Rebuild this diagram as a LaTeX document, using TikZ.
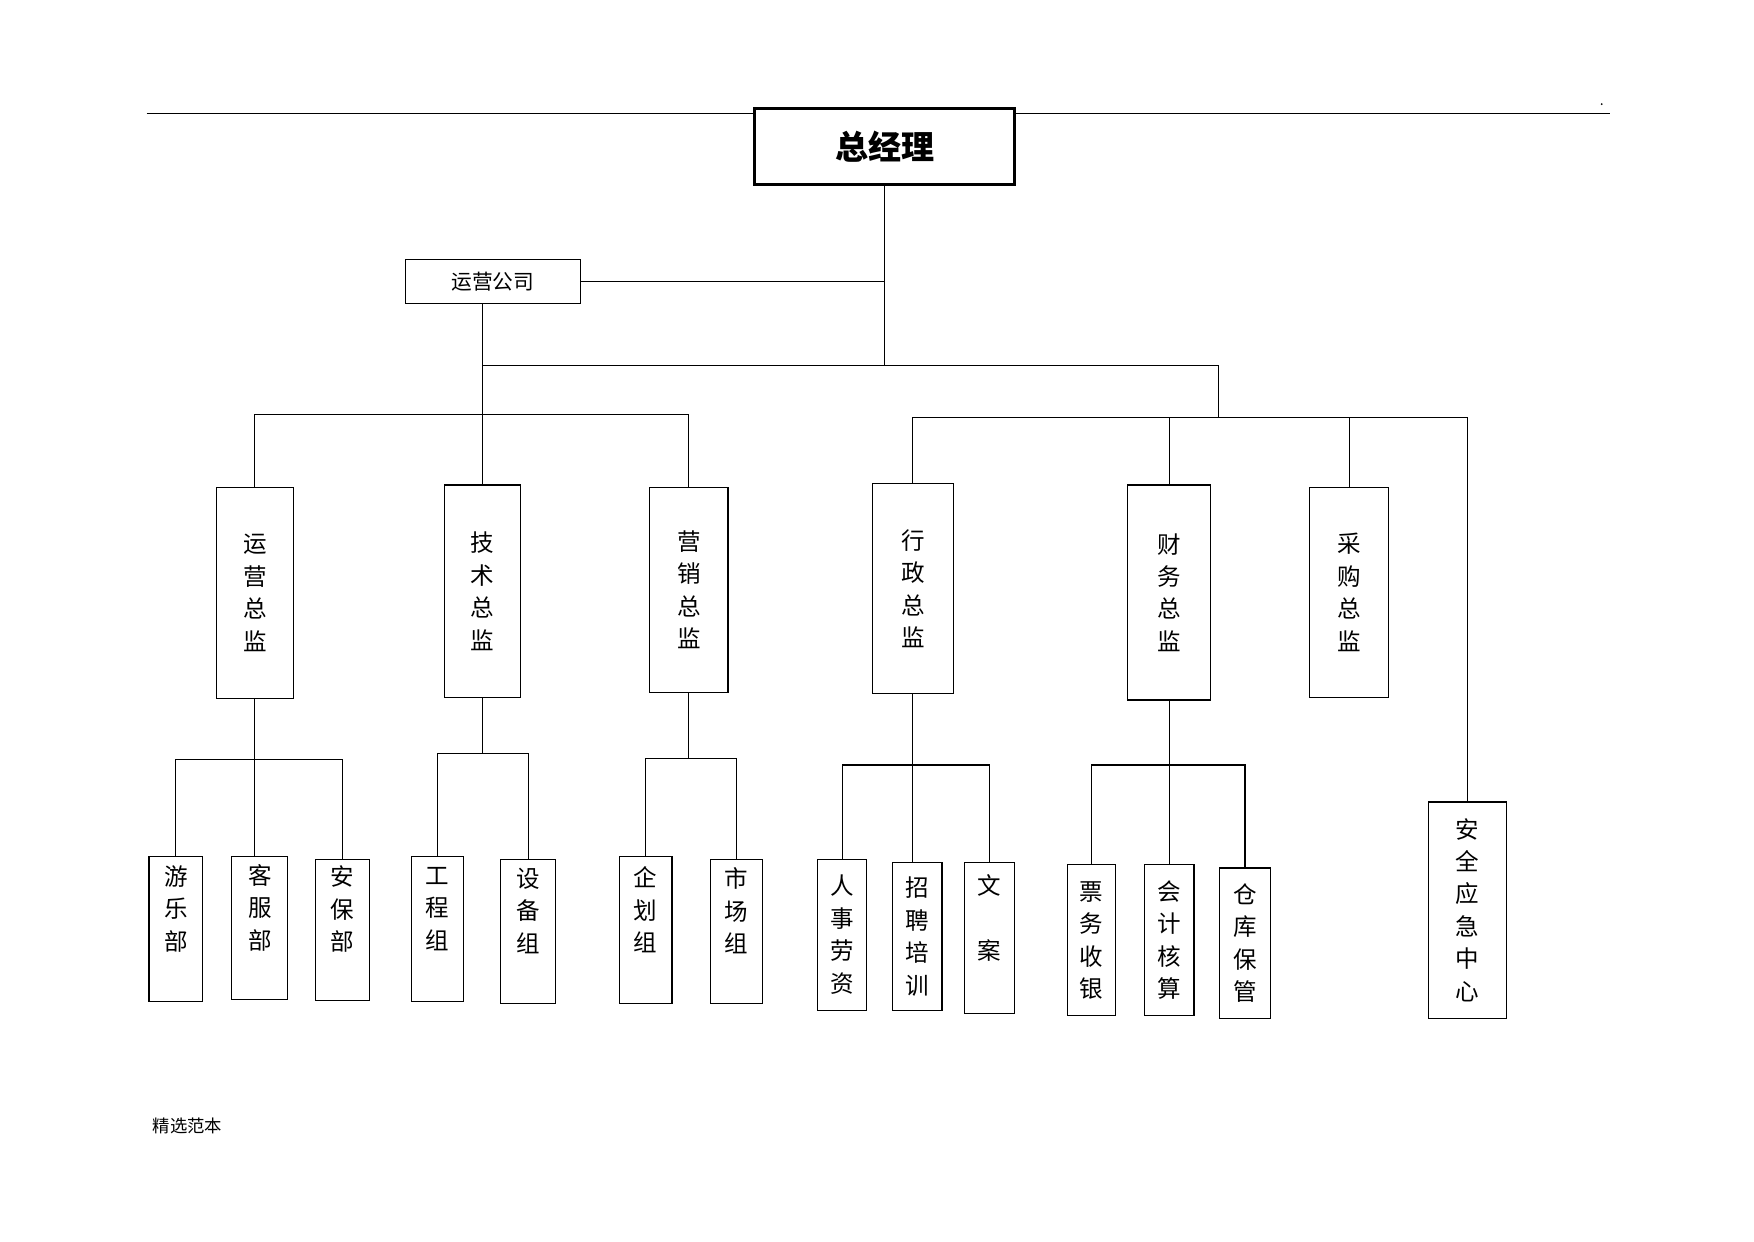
\documentclass[tikz,border=0pt]{standalone}
\usepackage{fontspec}
\setmainfont{Noto Sans CJK SC}
\begin{document}
\begin{tikzpicture}[x=1pt,y=-1pt,
  line width=1pt,
  box/.style={draw,line width=1pt,inner sep=0pt,align=center,font=\fontsize{21}{29}\selectfont},
  topbox/.style={draw,line width=2.6pt,inner sep=0pt,font=\fontsize{29.5}{31}\selectfont\bfseries},
  midbox/.style={draw,line width=1pt,inner sep=0pt,font=\fontsize{18.5}{20}\selectfont},
  conn/.style={line width=1pt}]
\useasboundingbox (0,0) rectangle (1566,1108);

% header rule and dot
\coordinate (hl) at (131,101);
\coordinate (hr) at (1437,101);
\fill (1430,93) circle (0.9);

% top
\node[topbox,minimum width=232,minimum height=68] (zjl) at (790,131) {总经理};
\node[midbox,minimum width=156,minimum height=39] (yygs) at (440,251.5) {运营公司};
\draw[conn] (hl) -- (hl -| zjl.west);
\draw[conn] (zjl.east |- hr) -- (hr);

% level 2
\node[box,minimum width=69,minimum height=189] (yyzj) at (227.5,529.5) {运\\营\\总\\监};
\node[box,minimum width=68,minimum height=190] (jszj) at (431,528) {技\\术\\总\\监};
\node[box,minimum width=70,minimum height=183] (yxzj) at (615,526.5) {营\\销\\总\\监};
\node[box,minimum width=72,minimum height=187] (xzzj) at (815,525.5) {行\\政\\总\\监};
\node[box,minimum width=74,minimum height=192] (cwzj) at (1044,529) {财\\务\\总\\监};
\node[box,minimum width=71,minimum height=188] (cgzj) at (1204.5,529) {采\\购\\总\\监};

% level 3
\node[box,minimum width=48,minimum height=129] (ylb) at (157,829.5) {游\\乐\\部\\\strut};
\node[box,minimum width=50,minimum height=127] (kfb) at (232,828.5) {客\\服\\部\\\strut};
\node[box,minimum width=48,minimum height=126] (abb) at (306,830) {安\\保\\部\\\strut};
\node[box,minimum width=47,minimum height=129] (gcz) at (390.5,829.5) {工\\程\\组\\\strut};
\node[box,minimum width=49,minimum height=129] (sbz) at (471.5,831.5) {设\\备\\组\\\strut};
\node[box,minimum width=47,minimum height=131] (qhz) at (576.5,830.5) {企\\划\\组\\\strut};
\node[box,minimum width=47,minimum height=129] (scz) at (657.5,831.5) {市\\场\\组\\\strut};
\node[box,minimum width=44,minimum height=135] (rsls) at (752,834.5) {人\\事\\劳\\资};
\node[box,minimum width=44,minimum height=132] (zppx) at (819,836) {招\\聘\\培\\训};
\node[box,minimum width=45,minimum height=135] (wa) at (883.5,837.5) {文\\\strut\\案\\\strut};
\node[box,minimum width=43,minimum height=135] (pwsy) at (974.5,839.5) {票\\务\\收\\银};
\node[box,minimum width=44,minimum height=135] (kjhs) at (1044,839.5) {会\\计\\核\\算};
\node[box,minimum width=45,minimum height=134] (ckbg) at (1111.5,842) {仓\\库\\保\\管};
\node[box,minimum width=70,minimum height=193] (aq) at (1310,812.5) {安\\全\\应\\急\\中\\心};

% buses
\coordinate (b1) at (0,326);
\coordinate (b1r) at (1088,326);
\coordinate (b2) at (0,370);
\coordinate (b3) at (0,373);

% top connections
\draw[conn] (zjl.south) -- (zjl.south |- b1);
\draw[conn] (yygs.east) -- (yygs.east -| zjl.south);
\draw[conn] (yygs.south -| jszj.north) -- (jszj.north);
\draw[conn] (jszj.north |- b1) -- (b1r) -- (b1r |- b3);

% left group of directors
\draw[conn] (yyzj.north) -- (yyzj.north |- b2) -- (yxzj.north |- b2) -- (yxzj.north);
% right group of directors
\draw[conn] (xzzj.north) -- (xzzj.north |- b3) -- (aq.north |- b3) -- (aq.north);
\draw[conn] (cwzj.north) -- (cwzj.north |- b3);
\draw[conn] (cgzj.north) -- (cgzj.north |- b3);

% level 3 connections
\coordinate (c1) at (0,678);
\draw[conn] (yyzj.south) -- (yyzj.south |- kfb.north);
\draw[conn] (ylb.north) -- (ylb.north |- c1) -- (abb.north |- c1) -- (abb.north);

\coordinate (c2) at (0,673);
\draw[conn] (jszj.south) -- (jszj.south |- c2);
\draw[conn] (gcz.north) -- (gcz.north |- c2) -- (sbz.north |- c2) -- (sbz.north);

\coordinate (c3) at (0,677);
\draw[conn] (yxzj.south) -- (yxzj.south |- c3);
\draw[conn] (qhz.north) -- (qhz.north |- c3) -- (scz.north |- c3) -- (scz.north);

\coordinate (c4) at (0,683);
\draw[conn] (xzzj.south) -- (xzzj.south |- zppx.north);
\draw[conn] (rsls.north) -- (rsls.north |- c4) -- (wa.north |- c4) -- (wa.north);

\draw[conn] (cwzj.south) -- (cwzj.south |- kjhs.north);
\draw[conn] (pwsy.north) -- (pwsy.north |- c4) -- (ckbg.north |- c4) -- (ckbg.north);

% footer
\node[font=\fontsize{15.5}{17}\selectfont,inner sep=0pt] (foot) at (167.5,1005) {精选范本};
\end{tikzpicture}
\end{document}
